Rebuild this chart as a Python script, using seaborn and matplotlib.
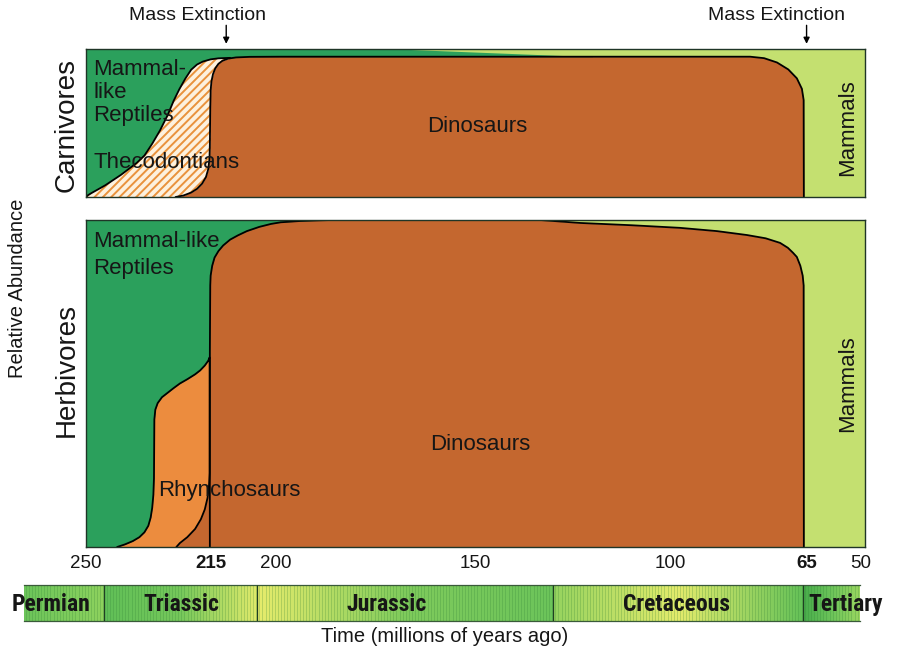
import numpy as np
import matplotlib
matplotlib.use("Agg")
import matplotlib.pyplot as plt
import matplotlib.transforms as mtrans
from matplotlib.colors import to_rgb
import seaborn as sns

# ---------------- data (time in millions of years ago, relative abundance 0..1) -------------
# Carnivores (cumulative upper boundaries)
car_theco_t = [250, 249.5, 248.5, 247, 245, 243, 241, 239, 237, 235, 233, 231, 229, 227.5, 226, 224.5,
               223, 221.5, 220, 218, 216, 213]
car_theco_v = [0.0, 0.012, 0.028, 0.05, 0.08, 0.115, 0.15, 0.19, 0.23, 0.28, 0.36, 0.45, 0.555, 0.65, 0.73, 0.80,
               0.86, 0.895, 0.915, 0.93, 0.937, 0.94]
car_dino_t = [227, 225, 223, 221.5, 220.2, 219.2, 218.6, 218.3, 218.2, 218.1, 218.0, 217.8, 217.4, 216.8, 216,
              215, 213.5, 211.5, 208, 200, 150, 100, 79.5, 75.9, 72.6, 69.7, 67.5, 66.2, 65.75, 65.7]
car_dino_v = [0.0, 0.01, 0.03, 0.055, 0.09, 0.135, 0.19, 0.26, 0.35, 0.6, 0.72, 0.78, 0.83, 0.87, 0.9,
              0.92, 0.935, 0.943, 0.947, 0.948, 0.948, 0.948, 0.948, 0.938, 0.909, 0.862, 0.802, 0.731, 0.655, 0.0]
car_mamm_t = [170, 120, 118, 50]
car_mamm_low = [1.0, 0.948, 0.0, 0.0]

# Herbivores
herb_rhyn_t = [242, 240, 238, 236.3, 235, 234, 233.4, 233.0, 232.7, 232.55, 232.5, 232.45, 232.2, 231.6, 230.5,
               229, 227.5, 225.9, 224, 222, 220.7, 219.5, 218.6, 218.25, 218.2]
herb_rhyn_v = [0.0, 0.008, 0.018, 0.03, 0.045, 0.065, 0.09, 0.12, 0.16, 0.21, 0.3, 0.39, 0.42, 0.44, 0.458,
               0.472, 0.486, 0.5, 0.513, 0.528, 0.54, 0.555, 0.57, 0.58, 0.0]
herb_dino_t = [226.8, 225.9, 224, 222, 220.5, 219.5, 218.8, 218.4, 218.25, 218.2, 218.1, 218.0, 217.6, 217.0,
               216.0, 214.8, 213, 211, 208.7, 205.5, 202.5, 200, 195, 190, 187, 150, 133.4, 123.2, 110, 97.5,
               88, 80.3, 75.5, 71.8, 69.8, 68.5, 67.5, 66.6, 66.0, 65.75, 65.7]
herb_dino_v = [0.0, 0.012, 0.03, 0.055, 0.085, 0.115, 0.15, 0.19, 0.226, 0.6, 0.80, 0.83, 0.86, 0.885,
               0.905, 0.922, 0.94, 0.953, 0.966, 0.979, 0.988, 0.993, 0.997, 0.999, 1.0, 1.0, 1.0, 0.991, 0.984, 0.976,
               0.966, 0.954, 0.944, 0.93, 0.915, 0.9, 0.887, 0.86, 0.83, 0.80, 0.0]
herb_mamm_t = [136, 134, 50]
herb_mamm_low = [1.0, 0.0, 0.0]

time_span = [250, 50]
extinctions = [214, 65]

tick_vals = [250, 215, 200, 150, 100, 65, 50]
tick_labels = ["250", "215", "200", "150", "100", "65", "50"]
tick_bold = ["215", "65"]

periods = ["Permian", "Triassic", "Jurassic", "Cretaceous", "Tertiary"]
period_edges = [265.9, 245.4, 206.0, 130.1, 65.9, 51.3]
period_label_t = [259, 225.4, 172.7, 98.5, 54.9]

# ---------------- style ----------------
sns.set_theme(style="white")
plt.rcParams["font.family"] = ["Liberation Sans", "DejaVu Sans"]
plt.rcParams["hatch.linewidth"] = 1.4

GREEN = "#2ba05c"
BROWN = "#c4672f"
LIGHT = "#c4e070"
ORANGE = "#ec8c3e"
HATCH_FACE = "#fdf1de"
HATCH_EDGE = "#e9923c"
SPINE = "#1f3527"
TXT = "#161616"

period_colors = [
    ["#6cc45a", "#7ccb5c", "#8ed25e"],
    ["#60bf57", "#76c85b", "#e0ea6b"],
    ["#e6ec6c", "#7fcb5c", "#6cc45a"],
    ["#96d35f", "#e4eb6c", "#64c158"],
    ["#48ad4b", "#6cc45a", "#9ad660"],
]

fig = plt.figure(figsize=(8.98, 6.53), dpi=100)
W, H = 898.0, 653.0
ax_c = fig.add_axes([86 / W, 1 - 197 / H, 779 / W, 148 / H])
ax_h = fig.add_axes([86 / W, 1 - 547 / H, 779 / W, 327 / H])
ax_p = fig.add_axes([24 / W, 1 - 621 / H, 836 / W, 36 / H])

def line(ax, t, v):
    sns.lineplot(x=t, y=v, sort=False, estimator=None, color="black", lw=1.3, ax=ax, legend=False, zorder=6)

# ---- carnivores ----
ax = ax_c
ax.fill_between(time_span, 0, 1, color=GREEN, lw=0, zorder=1)
ax.fill_between(car_mamm_t, car_mamm_low, 1, color=LIGHT, lw=0, zorder=2)
ax.fill_between(car_theco_t, 0, car_theco_v, facecolor=HATCH_FACE, edgecolor=HATCH_EDGE, hatch="////", lw=0, zorder=3)
ax.fill_between(car_dino_t, 0, car_dino_v, color=BROWN, lw=0, zorder=4)
line(ax, car_theco_t, car_theco_v)
line(ax, car_dino_t, car_dino_v)

# ---- herbivores ----
ax = ax_h
ax.fill_between(time_span, 0, 1, color=GREEN, lw=0, zorder=1)
ax.fill_between(herb_mamm_t, herb_mamm_low, 1, color=LIGHT, lw=0, zorder=2)
ax.fill_between(herb_rhyn_t, 0, herb_rhyn_v, color=ORANGE, lw=0, zorder=3)
ax.fill_between(herb_dino_t, 0, herb_dino_v, color=BROWN, lw=0, zorder=4)
line(ax, herb_rhyn_t, herb_rhyn_v)
line(ax, herb_dino_t, herb_dino_v)

for ax in (ax_c, ax_h):
    ax.set_xlim(250, 50)
    ax.set_ylim(0, 1)
    ax.set_yticks([])
    ax.set_xlabel("")
    ax.set_ylabel("")
    for s in ax.spines.values():
        s.set_visible(True)
        s.set_color(SPINE)
        s.set_linewidth(1.0)
        s.set_zorder(10)
ax_c.set_xticks([])

ax_h.set_xticks(tick_vals)
ax_h.set_xticklabels(tick_labels)
ax_h.tick_params(axis="x", length=0, pad=6, labelsize=13.5, labelcolor=TXT)
shifts = {"215": -11, "200": -5, "50": -4}
for lab in ax_h.get_xticklabels():
    if lab.get_text() in tick_bold:
        lab.set_fontweight("bold")
    if lab.get_text() in shifts:
        lab.set_transform(lab.get_transform() + mtrans.ScaledTranslation(shifts[lab.get_text()] / 100, 0, fig.dpi_scale_trans))

# ---- text labels inside panels ----
kw = dict(color=TXT, fontsize=16)
ax_c.text(0.009, 0.706, "Mammal-\nlike\nReptiles", transform=ax_c.transAxes, ha="left", va="center", linespacing=1.12, zorder=8, **kw)
ax_c.text(0.009, 0.23, "Thecodontians", transform=ax_c.transAxes, ha="left", va="center", zorder=8, **kw)
ax_c.text(0.502, 0.473, "Dinosaurs", transform=ax_c.transAxes, ha="center", va="center", zorder=8, **kw)
ax_c.text(0.978, 0.466, "Mammals", transform=ax_c.transAxes, ha="center", va="center", rotation=90, zorder=8, **kw)

ax_h.text(0.009, 0.893, "Mammal-like\nReptiles", transform=ax_h.transAxes, ha="left", va="center", linespacing=1.36, zorder=8, **kw)
ax_h.text(0.0924, 0.174, "Rhynchosaurs", transform=ax_h.transAxes, ha="left", va="center", zorder=8, **kw)
ax_h.text(0.506, 0.312, "Dinosaurs", transform=ax_h.transAxes, ha="center", va="center", zorder=8, **kw)
ax_h.text(0.978, 0.50, "Mammals", transform=ax_h.transAxes, ha="center", va="center", rotation=90, zorder=8, **kw)

# ---- mass extinction arrows ----
xt = ax_c.get_xaxis_transform()
for t_ext, t_txt in zip(extinctions, [221.5, 72.6]):
    ax_c.annotate("", xy=(t_ext, 1.035), xytext=(t_ext, 1.16), xycoords=xt, textcoords=xt,
                  arrowprops=dict(arrowstyle="-|>", color="black", lw=1.0, mutation_scale=9, shrinkA=0, shrinkB=0),
                  annotation_clip=False)
    ax_c.text(t_txt, 1.225, "Mass Extinction", transform=xt, ha="center", va="center", fontsize=14, color=TXT, clip_on=False)

# ---- side labels ----
fig.text(67 / W, 1 - 125 / H, "Carnivores", rotation=90, ha="center", va="center", fontsize=20, color=TXT)
fig.text(67 / W, 1 - 370 / H, "Herbivores", rotation=90, ha="center", va="center", fontsize=20, color=TXT)
fig.text(18 / W, 1 - 288 / H, "Relative Abundance", rotation=90, ha="center", va="center", fontsize=14.5, color=TXT)
fig.text(445 / W, 1 - 636 / H, "Time (millions of years ago)", ha="center", va="center", fontsize=14.5, color=TXT)

# ---- geological period bar ----
for i in range(len(periods)):
    t0, t1 = period_edges[i], period_edges[i + 1]
    cols = np.array([to_rgb(c) for c in period_colors[i]])
    pos = np.linspace(0, 1, len(cols))
    xs = np.linspace(0, 1, 80)
    grad = np.stack([np.interp(xs, pos, cols[:, k]) for k in range(3)], axis=-1)[None, :, :]
    ax_p.imshow(grad, extent=[t0, t1, 0, 1], aspect="auto", interpolation="bilinear", zorder=1)
ax_p.vlines(np.arange(265.5, 51.3, -0.8), 0, 1, colors="#2f7f35", alpha=0.28, lw=0.6, zorder=2)
ax_p.vlines(period_edges[1:-1], 0, 1, colors="#1f3f22", lw=0.9, zorder=3)
for name, tl in zip(periods, period_label_t):
    ax_p.text(tl, 0.45, name, ha="center", va="center", fontsize=17, fontweight="bold", color=TXT,
              family=["Liberation Sans Narrow", "Roboto Condensed", "Liberation Sans"], zorder=5, clip_on=False)
ax_p.set_xlim(period_edges[0], period_edges[-1])
ax_p.set_ylim(0, 1)
ax_p.set_xticks([])
ax_p.set_yticks([])
for side, s in ax_p.spines.items():
    s.set_visible(side in ("top", "bottom"))
    s.set_color("#3a5a3a")
    s.set_linewidth(0.9)

fig.savefig("out.png", dpi=100)
